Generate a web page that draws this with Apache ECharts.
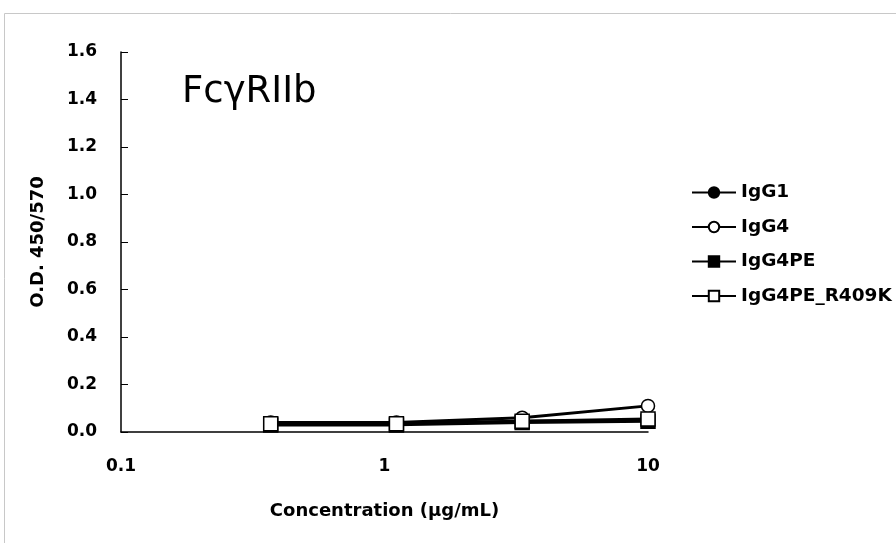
<!DOCTYPE html>
<html>
<head>
<meta charset="utf-8">
<script src="https://cdn.jsdelivr.net/npm/echarts@6/dist/echarts.min.js"></script>
<style>
  html, body { margin: 0; padding: 0; background: #fff; }
  #chart { width: 896px; height: 543px; }
</style>
</head>
<body>
<div id="chart"></div>
<script>
// 3-fold dilution series (ug/mL)
const concentrations = [0.37, 1.11, 3.33, 10];
const igg1 = [0.035, 0.035, 0.045, 0.05];
const igg4 = [0.04, 0.04, 0.06, 0.11];
const igg4pe = [0.03, 0.03, 0.04, 0.045];
const igg4peR409k = [0.035, 0.035, 0.045, 0.055];
const yTicks = [0, 0.2, 0.4, 0.6, 0.8, 1.0, 1.2, 1.4, 1.6];

const font = "DejaVu Sans, sans-serif";

function pairs(ys) {
  return concentrations.map((c, i) => [c, ys[i]]);
}

function makeSeries(name, ys, symbol, filled) {
  return {
    name: name,
    type: "line",
    data: pairs(ys),
    symbol: symbol,
    symbolSize: symbol === "rect" ? 14 : 13,
    lineStyle: { color: "#000", width: 3 },
    itemStyle: { color: filled ? "#000" : "#fff", borderColor: "#000", borderWidth: 1.5 },
    emphasis: { disabled: true },
    z: 3
  };
}

const chart = echarts.init(document.getElementById("chart"));
chart.setOption({
  animation: false,
  backgroundColor: "#fff",
  graphic: [
    {
      type: "rect",
      shape: { x: 4.5, y: 13.5, width: 1000, height: 1000 },
      style: { fill: "none", stroke: "#c8c8c8", lineWidth: 1 },
      z: -1
    },
    {
      type: "text",
      left: 182,
      top: 74,
      style: { text: "FcγRIIb", font: "37px " + font, fill: "#000" }
    }
  ],
  grid: { left: 121, right: 248, top: 52, bottom: 111 },
  legend: {
    orient: "vertical",
    left: 686,
    top: 178,
    itemWidth: 44,
    itemHeight: 13,
    itemGap: 15.5,
    textStyle: { fontFamily: font, fontWeight: "bold", fontSize: 18.5, color: "#000" },
    data: ["IgG1", "IgG4", "IgG4PE", "IgG4PE_R409K"]
  },
  xAxis: {
    type: "log",
    logBase: 10,
    min: 0.1,
    max: 10,
    name: "Concentration (μg/mL)",
    nameLocation: "middle",
    nameGap: 70,
    nameTextStyle: { fontFamily: font, fontWeight: "bold", fontSize: 18, color: "#000" },
    axisLine: { onZero: false, lineStyle: { color: "#000", width: 1.5 } },
    axisTick: { show: false },
    splitLine: { show: false },
    axisLabel: {
      margin: 26,
      fontFamily: font, fontWeight: "bold", fontSize: 17, color: "#000",
      formatter: v => String(v)
    }
  },
  yAxis: {
    type: "value",
    min: yTicks[0],
    max: yTicks[yTicks.length - 1],
    interval: 0.2,
    name: "O.D. 450/570",
    nameLocation: "middle",
    nameGap: 74,
    nameTextStyle: { fontFamily: font, fontWeight: "bold", fontSize: 18, color: "#000" },
    axisLine: { show: true, lineStyle: { color: "#000", width: 1.5 } },
    axisTick: { show: true, inside: true, length: 7, lineStyle: { color: "#000" } },
    splitLine: { show: false },
    axisLabel: {
      margin: 24,
      fontFamily: font, fontWeight: "bold", fontSize: 17, color: "#000",
      formatter: v => v.toFixed(1)
    }
  },
  series: [
    makeSeries("IgG1", igg1, "circle", true),
    makeSeries("IgG4", igg4, "circle", false),
    makeSeries("IgG4PE", igg4pe, "rect", true),
    makeSeries("IgG4PE_R409K", igg4peR409k, "rect", false)
  ]
});
</script>
</body>
</html>
